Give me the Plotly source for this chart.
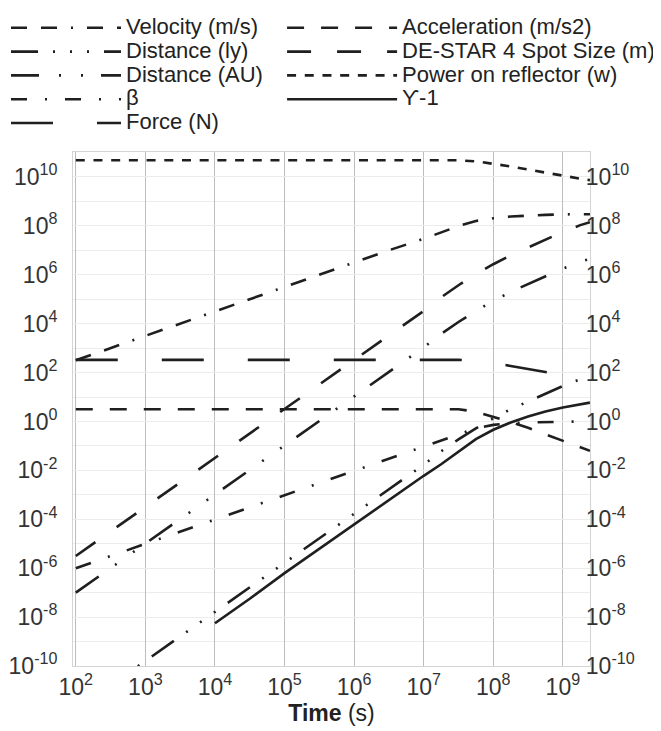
import plotly.graph_objects as go

# time (s)
time_s = [1e2, 3.16e2, 1e3, 3.16e3, 1e4, 3.16e4, 1e5, 3.16e5, 1e6, 3.16e6, 1e7,
          1.78e7, 3.16e7, 5.62e7, 1e8, 1.78e8, 3.16e8, 5.62e8, 1e9, 1.78e9, 2.45e9]

velocity = [3.16e2, 1e3, 3.16e3, 1e4, 3.16e4, 1e5, 3.16e5, 1e6, 3.16e6, 1e7, 2.95e7,
            5.25e7, 9.77e7, 1.58e8, 2.04e8, 2.4e8, 2.69e8, 2.82e8, 2.95e8, 3.0e8, 3.0e8]
acceleration = [3.16, 3.16, 3.16, 3.16, 3.16, 3.16, 3.16, 3.16, 3.16, 3.16, 3.16,
                3.16, 3.16, 2.51, 1.58, 0.955, 0.55, 0.295, 0.158, 0.089, 0.063]
distance_ly = [1.58e-12, 1.58e-11, 1.58e-10, 1.58e-9, 1.58e-8, 1.58e-7, 1.58e-6, 1.58e-5,
               1.58e-4, 1.58e-3, 1.7e-2, 6.0e-2, 1.86e-1, 5.25e-1, 1.35, 3.16, 6.6,
               1.41e1, 2.82e1, 5.37e1, 7.08e1]
spot_size = [3.16e-6, 3.16e-5, 3.16e-4, 3.16e-3, 3.16e-2, 3.16e-1, 3.16, 3.16e1, 3.16e2,
             3.16e3, 3.31e4, 1.2e5, 3.72e5, 1.05e6, 2.69e6, 6.3e6, 1.32e7, 2.82e7,
             5.62e7, 1.07e8, 1.41e8]
distance_au = [1e-7, 1e-6, 1e-5, 1e-4, 1e-3, 1e-2, 1e-1, 1, 1e1, 1e2, 1.07e3, 3.8e3,
               1.17e4, 3.31e4, 8.5e4, 2.0e5, 4.17e5, 8.9e5, 1.78e6, 3.39e6, 4.47e6]
power = [4.79e10, 4.79e10, 4.79e10, 4.79e10, 4.79e10, 4.79e10, 4.79e10, 4.79e10,
         4.79e10, 4.79e10, 4.79e10, 4.79e10, 4.79e10, 4.37e10, 3.55e10, 2.69e10,
         2.0e10, 1.48e10, 1.12e10, 8.5e9, 7.4e9]
beta = [1e-6, 3.16e-6, 1e-5, 3.16e-5, 1e-4, 3.16e-4, 1e-3, 3.16e-3, 1e-2, 3.16e-2, 1e-1,
        0.178, 0.316, 0.525, 0.724, 0.85, 0.912, 0.955, 0.977, 0.995, 1.0]
gamma_m1 = [None, None, None, None, 5.62e-9, 5.62e-8, 6.3e-7, 6.3e-6, 6.3e-5, 6.3e-4,
            6.0e-3, 1.78e-2, 5.62e-2, 1.9e-1, 4.57e-1, 9.1e-1, 1.58, 2.57, 3.72, 5.13, 5.89]
force = [3.31e2, 3.31e2, 3.31e2, 3.31e2, 3.31e2, 3.31e2, 3.31e2, 3.31e2, 3.31e2,
         3.31e2, 3.31e2, 3.31e2, 3.31e2, 3.0e2, 2.45e2, 1.86e2, 1.38e2, 1.02e2,
         7.8e1, 5.9e1, 5.1e1]

# (name, values, dash, legend column)
series = [
    ("Velocity (m/s)", velocity, "16px,14px,16px,14px,2px,14px", "legend"),
    ("Acceleration (m/s2)", acceleration, "17px,17px", "legend2"),
    ("Distance (ly)", distance_ly, "27px,15px,2px,15px,2px,15px,2px,15px", "legend"),
    ("DE-STAR 4 Spot Size (m)", spot_size, "24px,26px", "legend2"),
    ("Distance (AU)", distance_au, "28px,20px,2px,20px,2px,18px", "legend"),
    ("Power on reflector (w)", power, "9px,8.7px", "legend2"),
    ("β", beta, "16px,18px,2px,18px", "legend"),
    ("ϒ-1", gamma_m1, "solid", "legend2"),
    ("Force (N)", force, "42px,44px", "legend"),
]

even_exps = list(range(-10, 11, 2))
odd_exps = list(range(-9, 11, 2))
y_tickvals = [10.0 ** e for e in even_exps]
y_ticktext = [f"10<sup>{e}</sup>" for e in even_exps]
y_minorvals = [10.0 ** e for e in odd_exps]
x_exps = list(range(2, 10))
x_tickvals = [10.0 ** e for e in x_exps]
x_ticktext = [f"10<sup>{e}</sup>" for e in x_exps]

LINE = "#1f1f1f"
FONT = "Liberation Sans, Arial, sans-serif"
fig = go.Figure()
for name, vals, dash, lg in series:
    fig.add_trace(go.Scatter(
        x=time_s, y=vals, mode="lines", legend=lg,
        name=f'<span style="font-size:22px">{name}</span>',
        line=dict(color=LINE, width=2.6, dash=dash)))
# invisible helper so the mirrored right axis is drawn
fig.add_trace(go.Scatter(x=[time_s[0]], y=[beta[0]], yaxis="y2", mode="lines",
                         showlegend=False, hoverinfo="skip", line=dict(width=0)))

tickfont = dict(family=FONT, size=23, color="#333333")
yrange = [-10.0, 11.02]
legend_common = dict(orientation="v", xref="paper", yref="paper", yanchor="top",
                     xanchor="left", itemwidth=110, bgcolor="rgba(0,0,0,0)",
                     font=dict(family=FONT, size=16, color="#222222"),
                     itemclick=False, tracegroupgap=0)
fig.update_layout(
    width=661, height=731,
    margin=dict(l=65, r=79, t=144, b=73, autoexpand=False),
    paper_bgcolor="white", plot_bgcolor="white",
    font=dict(family=FONT, color="#222222"),
    xaxis=dict(type="log", range=[1.96, 9.39], tickvals=x_tickvals, ticktext=x_ticktext,
               tickfont=tickfont, showgrid=True, gridcolor="#bdbdbd", gridwidth=1,
               showline=True, linecolor="#d4d4d4", linewidth=1, mirror=True,
               ticks="", zeroline=False,
               title=dict(text="<b>Time</b> (s)", font=dict(size=23, color="#222222"),
                          standoff=4)),
    yaxis=dict(type="log", range=yrange, tickvals=y_tickvals, ticktext=y_ticktext,
               tickfont=tickfont, showgrid=True, gridcolor="#ececec", gridwidth=1,
               minor=dict(tickvals=y_minorvals, showgrid=True, gridcolor="#ececec",
                          gridwidth=1, ticks=""),
               showline=True, linecolor="#d4d4d4", linewidth=1, mirror=True,
               ticks="outside", ticklen=10, tickcolor="rgba(0,0,0,0)", zeroline=False),
    yaxis2=dict(type="log", range=yrange, tickvals=y_tickvals, ticktext=y_ticktext,
                tickfont=tickfont, overlaying="y", side="right", showgrid=False,
                anchor="free", position=0.99,
                showline=False, ticks="", zeroline=False),
    legend=dict(x=-0.1296, y=1.2745, **legend_common),
    legend2=dict(x=0.4044, y=1.2745, **legend_common),
    showlegend=True,
)

fig.write_html("out.html")
